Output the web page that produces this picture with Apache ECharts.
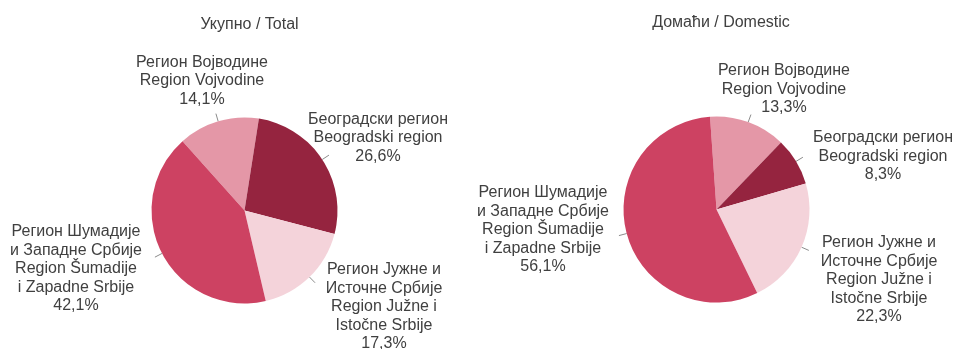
<!DOCTYPE html>
<html>
<head>
<meta charset="utf-8">
<script src="https://cdn.jsdelivr.net/npm/echarts@6/dist/echarts.min.js"></script>
<style>
  html, body { margin: 0; padding: 0; background: #ffffff; }
  #chart { width: 955px; height: 349px; }
</style>
</head>
<body>
<div id="chart"></div>
<script>
// Regions (Serbian Cyrillic / Latin), in drawing order
const regionLabels = [
  'Регион Војводине\nRegion Vojvodine',
  'Београдски регион\nBeogradski region',
  'Регион Јужне и\nИсточне Србије\nRegion Južne i\nIstočne Srbije',
  'Регион Шумадије\nи Западне Србије\nRegion Šumadije\ni Zapadne Srbije'
];
const regionColors = ['#e497a7', '#95243f', '#f4d3da', '#cd4262'];

// Shares of overnight stays, %
const totalShares = [14.1, 26.6, 17.3, 42.1];
const domesticShares = [13.3, 8.3, 22.3, 56.1];

const pieTitles = ['Укупно / Total', 'Домаћи / Domestic'];

const fmtPct = v => v.toFixed(1).replace('.', ',') + '%';

function toData(values) {
  return values.map((v, i) => ({
    name: regionLabels[i],
    value: v,
    itemStyle: { color: regionColors[i] }
  }));
}

const textColor = '#404040';
const fontFamily = '"Liberation Sans", Arial, sans-serif';

// Pie geometry and label placements for each chart
const pies = [
  {
    center: [244.5, 210.5], startAngle: 131.8, values: totalShares,
    labelPos: [[202, 81], [378, 138], [384, 307], [76, 269]]
  },
  {
    center: [716.5, 209.5], startAngle: 94, values: domesticShares,
    labelPos: [[784, 89.5], [883, 156.5], [879, 280], [543, 230]]
  }
];
const radius = 93;

const series = [];
pies.forEach(p => {
  // Slices with their text labels
  series.push({
    type: 'pie',
    z: 2,
    center: p.center,
    radius: radius,
    startAngle: p.startAngle,
    clockwise: true,
    animation: false,
    silent: true,
    avoidLabelOverlap: false,
    data: toData(p.values),
    itemStyle: { borderWidth: 0 },
    label: {
      show: true,
      color: textColor,
      fontFamily: fontFamily,
      fontSize: 16,
      lineHeight: 18.5,
      align: 'center',
      formatter: prm => prm.name + '\n' + fmtPct(prm.value)
    },
    labelLine: { show: false },
    labelLayout: prm => ({
      x: p.labelPos[prm.dataIndex][0],
      y: p.labelPos[prm.dataIndex][1],
      align: 'center',
      verticalAlign: 'middle'
    })
  });
  // Short leader ticks at each slice's mid-angle
  series.push({
    type: 'pie',
    z: 1,
    center: p.center,
    radius: radius,
    startAngle: p.startAngle,
    clockwise: true,
    animation: false,
    silent: true,
    avoidLabelOverlap: false,
    data: p.values.map((v, i) => ({ name: regionLabels[i], value: v })),
    itemStyle: { color: 'rgba(0,0,0,0)' },
    label: { show: true, formatter: ' ', fontSize: 1 },
    labelLine: {
      show: true, length: 8, length2: 0, smooth: false,
      lineStyle: { color: '#8c8c8c', width: 1 }
    }
  });
});

const chart = echarts.init(document.getElementById('chart'), null, { renderer: 'canvas' });
chart.setOption({
  backgroundColor: '#ffffff',
  title: [
    {
      text: pieTitles[0], left: 244.5, top: 12, textAlign: 'center',
      textStyle: { color: textColor, fontFamily: fontFamily, fontSize: 16, fontWeight: 'normal' }
    },
    {
      text: pieTitles[1], left: 716, top: 10, textAlign: 'center',
      textStyle: { color: textColor, fontFamily: fontFamily, fontSize: 16, fontWeight: 'normal' }
    }
  ],
  series: series
});
</script>
</body>
</html>
